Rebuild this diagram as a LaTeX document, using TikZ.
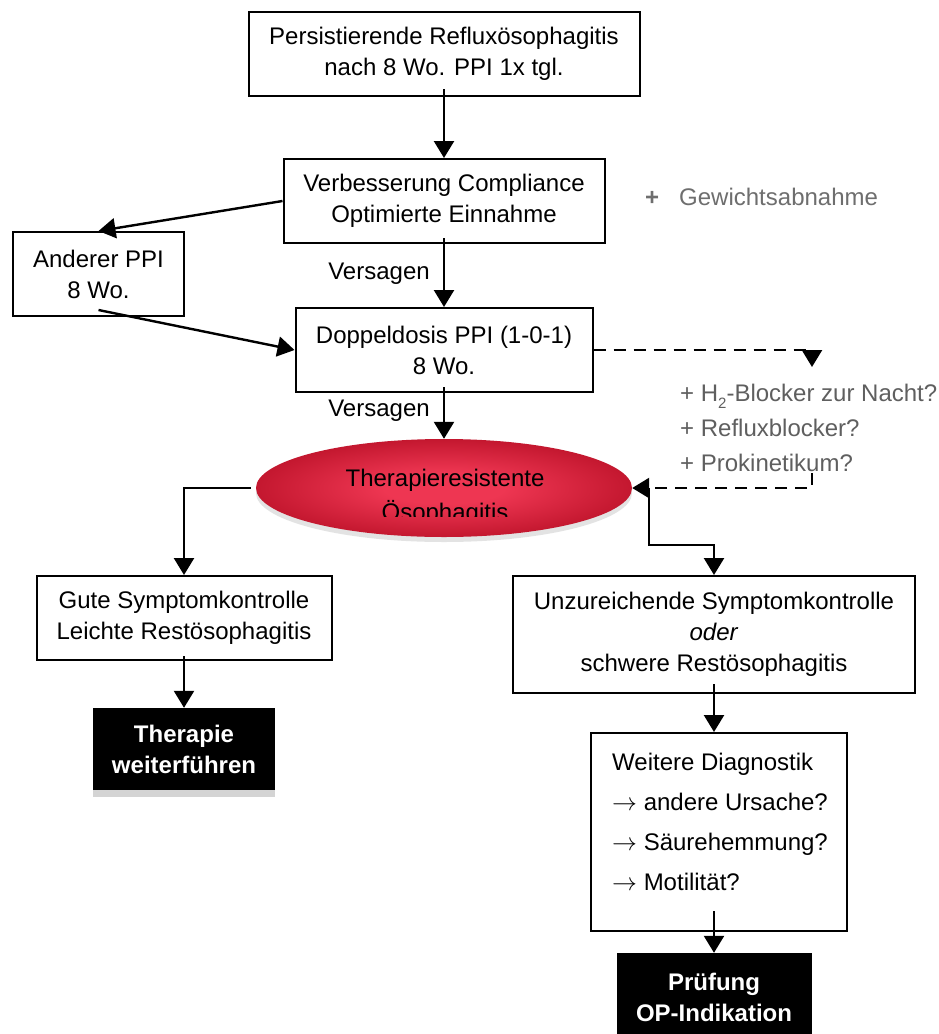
\documentclass[tikz,border=0pt]{standalone}
\usepackage{fontspec}
\setmainfont{Liberation Sans}
\usetikzlibrary{arrows.meta,shapes.geometric,shadows}

\definecolor{rlight}{HTML}{EE3652}
\definecolor{rmid}{HTML}{BC1229}
\definecolor{rdark}{HTML}{8A0916}
\definecolor{gtxt}{HTML}{6E6E6E}
\definecolor{gtxtb}{HTML}{5F5F5F}

% bright centre fading to a dark red rim
\pgfdeclareradialshading{redglow}{\pgfpoint{0bp}{0bp}}{color(0bp)=(rlight); color(8bp)=(rlight); color(28bp)=(rmid); color(46bp)=(rdark); color(72bp)=(rdark)}

\newcommand\dgfont{\fontsize{24}{31}\selectfont}

\begin{document}
\begin{tikzpicture}[x=1pt,y=-1pt,
  box/.style={draw, line width=2pt, align=center, inner sep=0pt, font=\dgfont, fill=white},
  blackbox/.style={fill=black, text=white, font=\dgfont\bfseries, inner sep=0pt, align=center,
    drop shadow={shadow xshift=0pt, shadow yshift=-7pt, fill=black!17, opacity=1}},
  lbl/.style={font=\dgfont, inner sep=0pt},
  conn/.style={line width=2.4pt, -{Triangle[length=17pt,width=20pt]}},
  dconn/.style={conn, dash pattern=on 12pt off 8pt}]

\path[fill=white, use as bounding box] (0,0) rectangle (939,1034);

% main column
\node[box, minimum width=391pt, minimum height=84pt] (start) at (444,54) {Persistierende Refluxösophagitis\\nach 8 Wo. PPI 1x tgl.};
\node[box, minimum width=321pt, minimum height=84pt] (compl) at (444,201) {Verbesserung Compliance\\Optimierte Einnahme};
\node[box, minimum width=171pt, minimum height=84pt] (other) at (98.5,274) {Anderer PPI\\8 Wo.};
\node[box, minimum width=297pt, minimum height=84pt] (dbl) at (444,350) {Doppeldosis PPI (1-0-1)\\8 Wo.};

% central ellipse
\node[ellipse, shade, shading=redglow, minimum width=376pt, minimum height=98pt,
  drop shadow={shadow xshift=0pt, shadow yshift=-5pt, opacity=0.22}] (ell) at (444,488) {};
\begin{scope}
  \clip (250,440) rectangle (640,516);
  \node[font=\fontsize{24}{34}\selectfont, align=center, inner sep=0pt] (elltxt) at (445,497) {Therapieresistente\\Ösophagitis};
\end{scope}

% left branch
\node[box, minimum width=295pt, minimum height=84pt] (good) at (184,618) {Gute Symptomkontrolle\\Leichte Restösophagitis};
\node[blackbox, minimum width=182pt, minimum height=82pt] (cont) at (184,749) {Therapie\\weiterführen};

% right branch
\node[box, minimum width=402pt, minimum height=117pt] (poor) at (714,634.5) {Unzureichende Symptomkontrolle\\\textit{oder}\\schwere Restösophagitis};
\node[box, minimum width=256pt, minimum height=198pt] (diag) at (719,832) {};
\node[font=\fontsize{24}{40}\selectfont, align=left, anchor=west, inner sep=0pt] (diagtxt) at (612,822) {Weitere Diagnostik\\$\rightarrow$ andere Ursache?\\$\rightarrow$ Säurehemmung?\\$\rightarrow$ Motilität?};
\node[blackbox, minimum width=195pt, minimum height=88pt] (op) at (714,997) {Prüfung\\OP-Indikation};

% side labels
\node[lbl] (fail1) at (379,274) {Versagen};
\node[lbl] (fail2) at (379,411) {Versagen};
\node[lbl, text=gtxt, anchor=west] (weight) at (645,197) {\textbf{+}\hspace{20pt}Gewichtsabnahme};
\node[font=\fontsize{24}{35}\selectfont, text=gtxtb, align=left, anchor=west, inner sep=0pt] (addon) at (680,428) {+ H\raisebox{-7pt}{\fontsize{15}{15}\selectfont 2}-Blocker zur Nacht?\\+ Refluxblocker?\\+ Prokinetikum?};

% free ends of the dashed loop
\coordinate (dashturn) at (812,367);
\coordinate (dashback) at (812,473);

% connectors
\draw[conn] ([yshift=8pt]start.south) -- (compl.north);
\draw[conn] (compl.west) -- (other.north);
\draw[conn] ([yshift=6pt]compl.south) -- (dbl.north);
\draw[conn] ([yshift=7pt]other.south) -- (dbl.west);
\draw[conn] ([yshift=6pt]dbl.south) -- (ell.north);
\draw[conn] ([xshift=-5pt]ell.west) -| (good.north);
\draw[conn] ([yshift=5pt]good.south) -- (cont.north);
\draw[conn] ([xshift=17pt]ell.east) -- ++(0,57) -| (poor.north);
\draw[conn] ([yshift=10pt]poor.south) -- (poor.south |- diag.north);
\draw[conn] (op.north |- diag.south) ++(0,-21) -- (op.north);
\draw[dconn] (dbl.east) -| (dashturn);
\draw[dconn] (dashback) |- (ell.east);
\end{tikzpicture}
\end{document}
